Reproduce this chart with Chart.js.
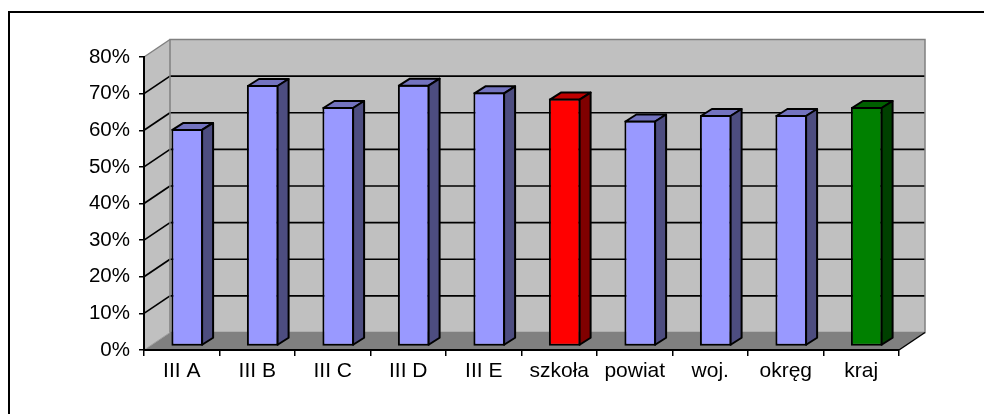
<!DOCTYPE html>
<html lang="pl">
<head>
<meta charset="utf-8">
<title>Wyniki - porównanie</title>
<script src="https://cdn.jsdelivr.net/npm/chart.js@4.4.0/dist/chart.umd.min.js"></script>
<style>
  html, body { margin: 0; padding: 0; background: #fff; }
  #chart { display: block; }
</style>
</head>
<body>
<canvas id="chart" width="984" height="414"></canvas>
<script>
// data
const categories = ["III A", "III B", "III C", "III D", "III E", "szkoła", "powiat", "woj.", "okręg", "kraj"];
const scores = [59.4, 71.4, 65.4, 71.5, 69.4, 67.7, 61.7, 63.2, 63.2, 65.4];

// bar colours: front, top and side faces
const frontColors = ["#9999ff", "#9999ff", "#9999ff", "#9999ff", "#9999ff", "#ff0000", "#9999ff", "#9999ff", "#9999ff", "#008000"];
const topColors   = ["#7373bf", "#7373bf", "#7373bf", "#7373bf", "#7373bf", "#bf0000", "#7373bf", "#7373bf", "#7373bf", "#006000"];
const sideColors  = ["#4d4d80", "#4d4d80", "#4d4d80", "#4d4d80", "#4d4d80", "#800000", "#4d4d80", "#4d4d80", "#4d4d80", "#004000"];

const FONT = "'Liberation Sans', Arial, sans-serif";

// oblique 3d offsets
const wallDepth = { dx: 26, dy: -17.5 };
const barShift = { dx: 5.5, dy: -3.5 };
const barDepth = { dx: 11, dy: -7 };

function poly(ctx, pts, fill, stroke, lw) {
  ctx.beginPath();
  ctx.moveTo(pts[0][0], pts[0][1]);
  for (let i = 1; i < pts.length; i++) ctx.lineTo(pts[i][0], pts[i][1]);
  ctx.closePath();
  if (fill) { ctx.fillStyle = fill; ctx.fill(); }
  if (stroke) { ctx.strokeStyle = stroke; ctx.lineWidth = lw || 1; ctx.stroke(); }
}

function line(ctx, x1, y1, x2, y2, color, lw) {
  ctx.beginPath();
  ctx.moveTo(x1, y1);
  ctx.lineTo(x2, y2);
  ctx.strokeStyle = color;
  ctx.lineWidth = lw;
  ctx.stroke();
}

const box3d = {
  id: "box3d",
  beforeDraw(chart) {
    const { ctx, chartArea: a, scales: { y } } = chart;
    const dx = wallDepth.dx, dy = wallDepth.dy;
    ctx.save();
    ctx.fillStyle = "#fff";
    ctx.fillRect(0, 0, chart.width, chart.height);

    // outer frame (top and left edge only are in view)
    ctx.beginPath();
    ctx.moveTo(9, chart.height);
    ctx.lineTo(9, 12);
    ctx.lineTo(chart.width, 12);
    ctx.strokeStyle = "#000";
    ctx.lineWidth = 2;
    ctx.stroke();

    // walls and floor
    poly(ctx, [[a.left, a.top], [a.left + dx, a.top + dy], [a.left + dx, a.bottom + dy], [a.left, a.bottom]], "#c0c0c0");
    poly(ctx, [[a.left + dx, a.top + dy], [a.right + dx, a.top + dy], [a.right + dx, a.bottom + dy], [a.left + dx, a.bottom + dy]], "#c0c0c0");
    poly(ctx, [[a.left, a.bottom], [a.right, a.bottom], [a.right + dx, a.bottom + dy], [a.left + dx, a.bottom + dy]], "#808080");

    // gridlines on side and back wall
    y.ticks.forEach(t => {
      if (t.value <= y.min || t.value >= y.max) return;
      const py = y.getPixelForValue(t.value);
      line(ctx, a.left, py, a.left + dx, py + dy, "#000", 1.7);
      line(ctx, a.left + dx, py + dy, a.right + dx, py + dy, "#000", 1.7);
    });

    // wall outlines
    ctx.lineJoin = "miter";
    poly(ctx, [[a.left + dx, a.top + dy], [a.right + dx, a.top + dy], [a.right + dx, a.bottom + dy], [a.left + dx, a.bottom + dy]], null, "#808080", 1.5);
    line(ctx, a.left, a.top, a.left + dx, a.top + dy, "#808080", 1.5);
    line(ctx, a.left, a.bottom, a.left + dx, a.bottom + dy, "#a0a0a0", 1);
    line(ctx, a.right, a.bottom, a.right + dx, a.bottom + dy, "#000", 1.5);
    ctx.restore();
  },
  beforeDatasetsDraw(chart) {
    chart.ctx.save();
    chart.ctx.translate(barShift.dx, barShift.dy);
  },
  afterDatasetsDraw(chart) {
    const ctx = chart.ctx;
    const dx = barDepth.dx, dy = barDepth.dy;
    ctx.lineJoin = "round";
    chart.getDatasetMeta(0).data.forEach((bar, i) => {
      const { x, y, base, width } = bar.getProps(["x", "y", "base", "width"], true);
      const l = x - width / 2 + 1, r = x + width / 2 - 1, t = y + 1, b = base - 1;
      poly(ctx, [[l, t], [l + dx, t + dy], [r + dx, t + dy], [r, t]], topColors[i], "#000", 2);
      poly(ctx, [[r, t], [r + dx, t + dy], [r + dx, b + dy], [r, b]], sideColors[i], "#000", 2);
    });
    ctx.restore();
  }
};

new Chart(document.getElementById("chart"), {
  type: "bar",
  data: {
    labels: categories,
    datasets: [{
      data: scores,
      backgroundColor: frontColors,
      borderColor: "#000",
      borderWidth: 2,
      borderSkipped: false,
      barPercentage: 0.42,
      categoryPercentage: 1
    }]
  },
  options: {
    responsive: false,
    animation: false,
    layout: { padding: { top: 57, right: 85, left: 0, bottom: 0 } },
    plugins: {
      legend: { display: false },
      tooltip: { enabled: false }
    },
    scales: {
      x: {
        offset: true,
        grid: { display: true, offset: true, drawOnChartArea: false, tickLength: 6, color: "#000", lineWidth: 1.5 },
        border: { display: true, color: "#000", width: 2 },
        ticks: { font: { size: 21, family: FONT }, color: "#000", padding: 3, maxRotation: 0, autoSkip: false },
        afterFit: s => { s.height = 64; }
      },
      y: {
        min: 0,
        max: 80,
        grid: { display: true, drawOnChartArea: false, tickLength: 5, color: "#000", lineWidth: 1.5 },
        border: { display: true, color: "#000", width: 2 },
        ticks: { stepSize: 10, callback: v => v + "%", font: { size: 20.5, family: FONT }, color: "#000", padding: 9 },
        afterFit: s => { s.width = 144; }
      }
    }
  },
  plugins: [box3d]
});
</script>
</body>
</html>
